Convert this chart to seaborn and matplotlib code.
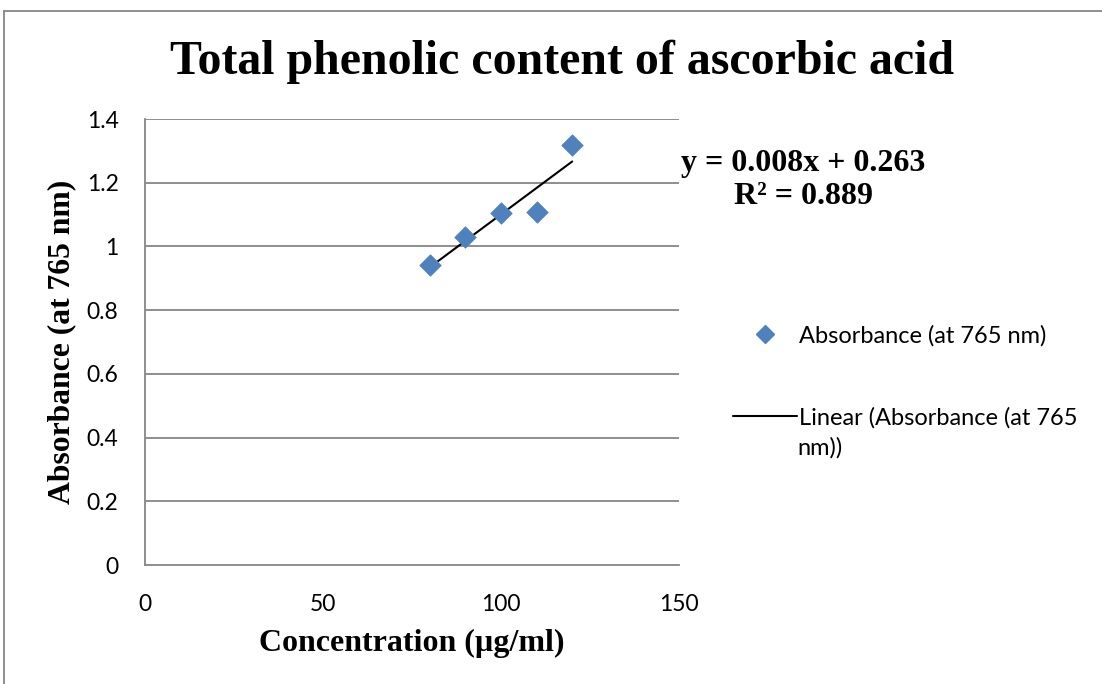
import numpy as np
import pandas as pd
import matplotlib
matplotlib.use("Agg")
import matplotlib.pyplot as plt
import seaborn as sns
from matplotlib.lines import Line2D

# Data
concentration = [80, 90, 100, 110, 120]
absorbance = [0.942, 1.030, 1.105, 1.108, 1.318]
x_ticks = [0, 50, 100, 150]
y_ticks = [0, 0.2, 0.4, 0.6, 0.8, 1.0, 1.2, 1.4]
y_tick_labels = ["0", "0.2", "0.4", "0.6", "0.8", "1", "1.2", "1.4"]
x_tick_labels = ["0", "50", "100", "150"]
equation_text = "y = 0.008x + 0.263"
r2_text = "R² = 0.889"

df = pd.DataFrame({"x": concentration, "y": absorbance})
slope, intercept = np.polyfit(df["x"], df["y"], 1)
fit = pd.DataFrame({"x": [min(concentration), max(concentration)]})
fit["y"] = slope * fit["x"] + intercept

sns.set_style("white")
plt.rcParams["text.color"] = "black"
fig = plt.figure(figsize=(11.02, 6.84), dpi=100)
ax = fig.add_axes([145/1102, 1-565/684, (679-145)/1102, (565-119)/684])

blue = "#4F81BD"
grid_c = "#868686"

for yv in y_ticks[1:]:
    ax.axhline(yv, color=grid_c, lw=1.3, zorder=0)

sns.lineplot(data=fit, x="x", y="y", ax=ax, color="black", lw=1.5, zorder=2)
sns.scatterplot(data=df, x="x", y="y", ax=ax, marker="D", s=120, color=blue,
                edgecolor=blue, linewidth=0.5, zorder=3)

ax.set_xlim(0, 150)
ax.set_ylim(0, 1.4)
ax.set_xticks(x_ticks)
ax.set_xticklabels(x_tick_labels)
ax.set_yticks(y_ticks)
ax.set_yticklabels(y_tick_labels)
ax.tick_params(axis="both", length=0, labelsize=16.5, colors="black")
ax.tick_params(axis="x", pad=21)
ax.tick_params(axis="y", pad=19)
for lab in ax.get_xticklabels() + ax.get_yticklabels():
    lab.set_family(["Lato", "DejaVu Sans"])

for s in ["top", "right"]:
    ax.spines[s].set_visible(False)
for s in ["left", "bottom"]:
    ax.spines[s].set_color(grid_c)
    ax.spines[s].set_linewidth(1.3)

ax.set_xlabel("")
ax.set_ylabel("")

serif = ["Liberation Serif", "DejaVu Serif"]
fig.text(562/1102, 1-62/684, "Total phenolic content of ascorbic acid",
         ha="center", va="center", fontsize=34.5, fontweight="bold", family=serif,
         color="black")
fig.text(412/1102, 1-643/684, "Concentration (µg/ml)", ha="center", va="center",
         fontsize=23, fontweight="bold", family=serif, color="black")
fig.text(62/1102, 1-342/684, "Absorbance (at 765 nm)", ha="center", va="center",
         rotation=90, fontsize=22.8, fontweight="bold", family=serif, color="black")

fig.text(803/1102, 1-163/684, equation_text,
         ha="center", va="center", fontsize=23, fontweight="bold", family=serif,
         color="black")
fig.text(803/1102, 1-197/684, r2_text, ha="center", va="center",
         fontsize=23, fontweight="bold", family=serif, color="black")

sans = ["Lato", "DejaVu Sans"]
handles = [
    Line2D([0], [0], marker="D", color="none", markerfacecolor=blue,
           markeredgecolor=blue, markersize=9.5, label="Absorbance (at 765 nm)"),
    Line2D([0], [0], color="black", lw=1.5, label="Linear (Absorbance (at 765"),
]
leg = fig.legend(handles=handles, loc="upper left", bbox_to_anchor=(733/1102, 1-325/684),
                 frameon=False, prop={"family": sans, "size": 17},
                 handlelength=2.7, handletextpad=0.1, labelspacing=2.55,
                 borderpad=0, borderaxespad=0)
for t in leg.get_texts():
    t.set_color("black")
fig.text(797/1102, 1-448/684, "nm))", ha="left", va="center", fontsize=17,
         family=sans, color="black")

# outer chart border
fig.add_artist(Line2D([4/1102, 4/1102], [0, 1-11/684], color=grid_c, lw=1.3,
                      transform=fig.transFigure))
fig.add_artist(Line2D([4/1102, 1], [1-11/684, 1-11/684], color=grid_c, lw=1.3,
                      transform=fig.transFigure))

fig.savefig("out.png", dpi=100)
